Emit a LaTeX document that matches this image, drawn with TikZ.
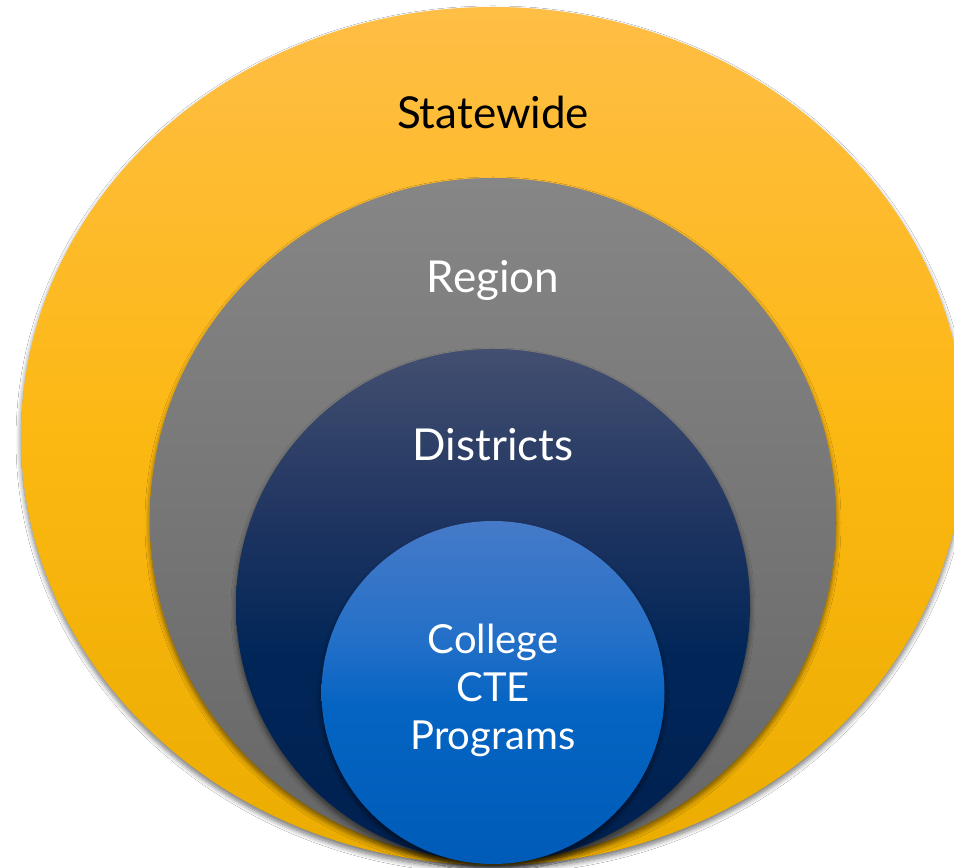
\documentclass[tikz,border=0pt]{standalone}
\usepackage{fontspec}
\setmainfont{Lato}
\usetikzlibrary{shapes.geometric,shadows.blur}
\pgfdeclareverticalshading{yellowsh}{100bp}{
  color(0bp)=(rgb,255:red,235;green,172;blue,0);
  color(25bp)=(rgb,255:red,235;green,172;blue,0);
  color(50bp)=(rgb,255:red,252;green,184;blue,18);
  color(75bp)=(rgb,255:red,255;green,190;blue,69);
  color(100bp)=(rgb,255:red,255;green,190;blue,69)}
\pgfdeclareverticalshading{graysh}{100bp}{
  color(0bp)=(rgb,255:red,102;green,102;blue,102);
  color(25bp)=(rgb,255:red,102;green,102;blue,102);
  color(50bp)=(rgb,255:red,118;green,118;blue,118);
  color(75bp)=(rgb,255:red,134;green,134;blue,134);
  color(100bp)=(rgb,255:red,134;green,134;blue,134)}
\pgfdeclareverticalshading{navysh}{100bp}{
  color(0bp)=(rgb,255:red,0;green,32;blue,79);
  color(25bp)=(rgb,255:red,0;green,32;blue,79);
  color(45bp)=(rgb,255:red,0;green,38;blue,88);
  color(57.5bp)=(rgb,255:red,29;green,51;blue,96);
  color(75bp)=(rgb,255:red,67;green,79;blue,112);
  color(100bp)=(rgb,255:red,67;green,79;blue,112)}
\pgfdeclareverticalshading{bluesh}{100bp}{
  color(0bp)=(rgb,255:red,0;green,91;blue,184);
  color(25bp)=(rgb,255:red,0;green,91;blue,184);
  color(48bp)=(rgb,255:red,5;green,100;blue,194);
  color(58bp)=(rgb,255:red,36;green,112;blue,200);
  color(75bp)=(rgb,255:red,70;green,122;blue,200);
  color(100bp)=(rgb,255:red,70;green,122;blue,200)}
\tikzset{
  ring/.style={ellipse, inner sep=0pt, outer sep=0pt, draw=none,
    blur shadow={shadow xshift=0pt, shadow yshift=-4pt, shadow blur radius=5pt, shadow blur steps=8, shadow opacity=55}},
  lbl/.style={font=\fontsize{44}{48}\selectfont, text=white, align=center, inner sep=0pt},
}
\begin{document}
\begin{tikzpicture}[x=1pt,y=1pt]
\useasboundingbox (0,0) rectangle (954,868);
\fill[white] (0,0) rectangle (954,868);
\clip (0,0) rectangle (954,868);
\node[ring, minimum width=944pt, minimum height=858pt, shading=yellowsh] (state) at (493,{868-436}) {};
\node[ring, minimum width=686pt, minimum height=682pt, shading=graysh] (region) at (493,{868-519}) {};
\node[ring, minimum width=514pt, minimum height=513pt, shading=navysh] (district) at (493,{868-605.5}) {};
\node[ring, minimum width=343pt, minimum height=343pt, shading=bluesh] (college) at (493,{868-692.5}) {};
\node[lbl, text=black] (tState) at (493,{868-112}) {Statewide};
\node[lbl] (tRegion) at (493,{868-280}) {Region};
\node[lbl] (tDistrict) at (493,{868-445}) {Districts};
\node[lbl, font=\fontsize{40}{48}\selectfont] (tCollege) at (493,{868-690}) {College\\CTE\\Programs};
\end{tikzpicture}
\end{document}
